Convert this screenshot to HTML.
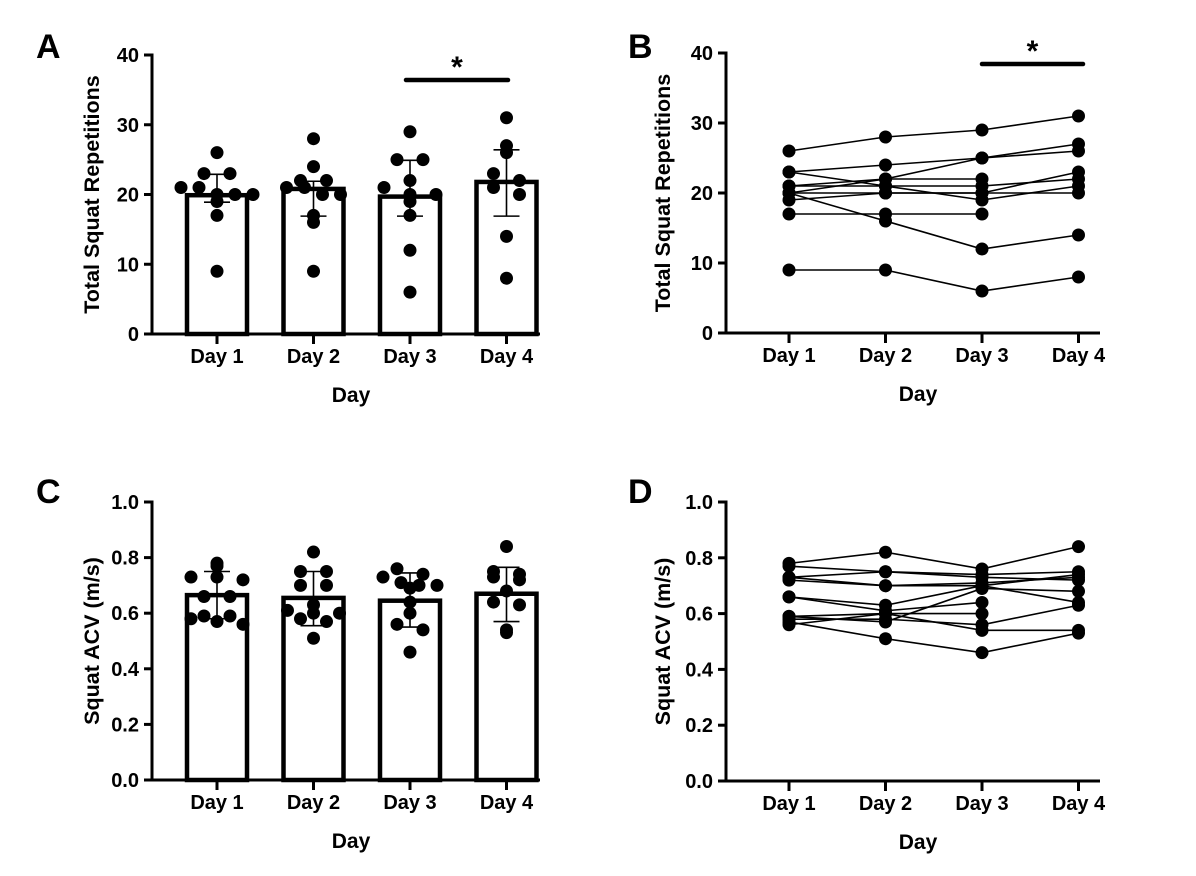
<!DOCTYPE html>
<html><head><meta charset="utf-8"><style>
body{margin:0;background:#fff}
svg{display:block}
text{font-family:"Liberation Sans",Arial,sans-serif;font-weight:bold;fill:#000}
</style></head><body>
<svg id="fig" width="1196" height="876" viewBox="0 0 1196 876" xmlns="http://www.w3.org/2000/svg"></svg>
<script>
const days = ["Day 1","Day 2","Day 3","Day 4"];
const repTicks = [0,10,20,30,40];
const acvTicks = [0.0,0.2,0.4,0.6,0.8,1.0];
const acvTickLabels = ["0.0","0.2","0.4","0.6","0.8","1.0"];
// Repetitions per subject (Day1..Day4)
const repSubjects = [
 [26,28,29,31],[23,24,25,27],[23,21,19,21],[20,22,25,26],[21,21,21,22],
 [21,22,22,null],[20,20,20,20],[19,20,20,23],[20,16,12,14],[17,17,17,null],[9,9,6,8]
];
const repMeans = [19.9,20.8,19.7,21.8];
const repUpper = [22.9,21.9,24.9,26.4];
const repLower = [18.9,16.9,16.9,16.9];
// ACV per subject
const acvSubjects = [
 [0.78,0.82,0.76,0.84],[0.77,0.75,0.73,0.72],[0.73,0.75,0.74,0.75],[0.72,0.70,0.70,0.64],
 [0.73,0.70,0.71,0.73],[0.66,0.63,0.70,0.74],[0.66,0.61,0.64,null],[0.59,0.60,0.60,null],
 [0.58,0.58,0.56,0.63],[0.56,0.60,0.54,0.54],[0.57,0.51,0.46,0.53],[0.59,0.57,0.69,0.68]
];
const acvMeans = [0.665,0.655,0.645,0.67];
const acvUpper = [0.75,0.75,0.745,0.765];
const acvLower = [0.58,0.555,0.55,0.57];

const NS="http://www.w3.org/2000/svg";
const svg=document.getElementById('fig');
function el(tag,attrs,parent,txt){const e=document.createElementNS(NS,tag);for(const k in attrs)e.setAttribute(k,attrs[k]);if(txt!==undefined)e.textContent=txt;(parent||svg).appendChild(e);return e;}

function panel(o){
 const g=el('g',{});
 
 
 const y=v=>o.y0-(v-o.vmin)/(o.vmax-o.vmin)*(o.y0-o.y1);
 const x=i=>o.xs+i*96.5;
 const lt=el('text',{x:o.lx,y:o.ly,'font-size':34},g,o.letter);
 
 if(o.bars){
  o.means.forEach((m,i)=>{
   const r=el('rect',{x:x(i)-30,y:y(m),width:60,height:o.y0-y(m),fill:'#fff',stroke:'#000','stroke-width':4.5},g);
   
  });
 }
 if(!o.bars){
  o.subjects.forEach((s,si)=>{
   let d='';s.forEach((v,i)=>{if(v==null)return;d+=(d?'L':'M')+x(i)+','+y(v);});
   const p=el('path',{d:d,fill:'none',stroke:'#000','stroke-width':1.6},g);
   
  });
 }
 for(let i=0;i<4;i++){
  const vals=o.subjects.map(s=>s[i]).filter(v=>v!=null).sort((a,b)=>b-a);
  const groups={};
  vals.forEach(v=>{const k=Math.round((v-o.vmin)/(o.vmax-o.vmin)*25);(groups[k]=groups[k]||[]).push(v);});
  Object.values(groups).forEach(gr=>{
   gr.forEach((v,j)=>{
    const off=o.bars?(j-(gr.length-1)/2)*(gr.length>3?18:26):0;
    const c=el('circle',{cx:x(i)+off,cy:y(v),r:6.5,fill:'#000'},g);
    
   });
  });
 }
 if(o.bars){
  o.means.forEach((m,i)=>{
   const e=el('path',{d:`M${x(i)},${y(o.upper[i])}L${x(i)},${y(o.lower[i])}M${x(i)-13},${y(o.upper[i])}L${x(i)+13},${y(o.upper[i])}M${x(i)-13},${y(o.lower[i])}L${x(i)+13},${y(o.lower[i])}`,stroke:'#000','stroke-width':1.6,fill:'none'},g);
   
  });
 }
 const ax=el('path',{d:`M${o.ax-8},${o.y1}L${o.ax},${o.y1}L${o.ax},${o.y0}L${o.xe},${o.y0}`,fill:'none',stroke:'#000','stroke-width':3},g);
 
 o.ticks.forEach((t,k)=>{
  el('line',{x1:o.ax-8,x2:o.ax,y1:y(t),y2:y(t),stroke:'#000','stroke-width':3},g);
  const tl=el('text',{x:o.ax-13,y:y(t)+7,'font-size':20,'text-anchor':'end'},g,o.tickLabels[k]);
  
 });
 days.forEach((d,i)=>{
  el('line',{x1:x(i),x2:x(i),y1:o.y0,y2:o.y0+10,stroke:'#000','stroke-width':3},g);
  const tl=el('text',{x:x(i),y:o.y0+29,'font-size':20,'text-anchor':'middle'},g,d);
  
 });
 const xt=el('text',{x:(o.ax+o.xe)/2+5,y:o.y0+68,'font-size':21,'text-anchor':'middle'},g,'Day');
 
 const yc=(o.y0+o.y1)/2;
 const yt=el('text',{x:o.ytx,y:yc,'font-size':21.5,'text-anchor':'middle',transform:`rotate(-90 ${o.ytx} ${yc})`},g,o.ytitle);
 
 if(o.sig){
  const sb=el('line',{x1:o.sig[0],x2:o.sig[1],y1:o.sig[2],y2:o.sig[2],stroke:'#000','stroke-width':4.5,'stroke-linecap':'round'},g);
  
  const st=el('text',{x:(o.sig[0]+o.sig[1])/2,y:o.sig[2]-3,'font-size':30,'text-anchor':'middle'},g,'*');
  
 }
}
const repLabels=repTicks.map(String);
panel({name:'panel-a',letter:'A',lx:36,ly:58,bars:true,subjects:repSubjects,means:repMeans,upper:repUpper,lower:repLower,
 vmin:0,vmax:40,y0:334,y1:55,ax:152,xe:540,xs:217,ticks:repTicks,tickLabels:repLabels,ytitle:'Total Squat Repetitions',ytx:99,sig:[406,508,80]});
panel({name:'panel-b',letter:'B',lx:628,ly:58,bars:false,subjects:repSubjects,
 vmin:0,vmax:40,y0:333,y1:53,ax:726,xe:1100,xs:789,ticks:repTicks,tickLabels:repLabels,ytitle:'Total Squat Repetitions',ytx:670,sig:[982,1083,64]});
panel({name:'panel-c',letter:'C',lx:36,ly:503,bars:true,subjects:acvSubjects,means:acvMeans,upper:acvUpper,lower:acvLower,
 vmin:0,vmax:1,y0:780,y1:502,ax:152,xe:540,xs:217,ticks:acvTicks,tickLabels:acvTickLabels,ytitle:'Squat ACV (m/s)',ytx:99});
panel({name:'panel-d',letter:'D',lx:628,ly:503,bars:false,subjects:acvSubjects,
 vmin:0,vmax:1,y0:781,y1:502,ax:726,xe:1100,xs:789,ticks:acvTicks,tickLabels:acvTickLabels,ytitle:'Squat ACV (m/s)',ytx:670});
</script>
</body></html>
